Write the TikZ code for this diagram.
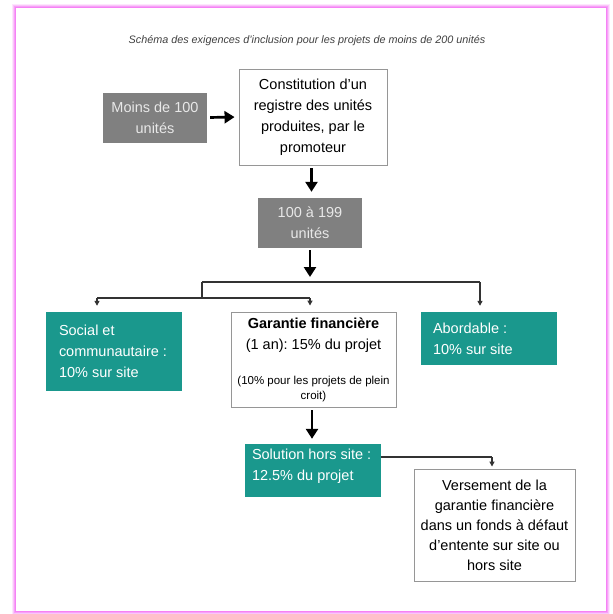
\documentclass[tikz,border=0pt]{standalone}
\usepackage{fontspec}
\setmainfont{Liberation Sans}
\usetikzlibrary{arrows.meta,calc}
\definecolor{teal1}{RGB}{26,152,141}
\definecolor{boxgray}{RGB}{128,128,128}
\definecolor{framepink}{RGB}{245,130,245}
\definecolor{bordergray}{RGB}{150,150,150}
\definecolor{lighttext}{RGB}{232,232,232}
\frenchspacing
\begin{document}
\begin{tikzpicture}[x=1pt,y=-1pt,
  every node/.style={font=\fontsize{14.5}{21}\selectfont, inner sep=0pt},
  graybox/.style={fill=boxgray, text=lighttext, align=center, minimum width=104pt, minimum height=50pt},
  whitebox/.style={draw=bordergray, line width=0.9pt, fill=white, align=flush center},
  tealbox/.style={fill=teal1, text=white, align=flush left},
  bigarrow/.style={-{Triangle[width=12pt,length=10pt]}, line width=2.7pt, draw=black},
  thinline/.style={line width=1.3pt, draw=black!80},
  thinarrow/.style={thinline, -{Triangle[width=5pt,length=5pt]}},
  glow/.style={draw=framepink, line width=1pt}
]
\useasboundingbox (0,0) rectangle (613,614);
\fill[white] (0,0) rectangle (613,614);
\draw[glow, opacity=1] (15.5,7.5) rectangle (606.5,611.5);
\draw[glow, opacity=0.75] (14.5,6.5) rectangle (607.5,612.5);
\draw[glow, opacity=0.45] (13.5,5.5) rectangle (608.5,613.5);
\draw[glow, opacity=0.2] (12.5,4.5) rectangle (609.5,614.5);

\node[font=\fontsize{10.8}{13}\selectfont\itshape, text=black!75] (title) at (307,41)
  {Schéma des exigences d'inclusion pour les projets de moins de 200 unités};

\node[graybox] (moins) at (155,117.5) {Moins de 100\\unités};
\node[whitebox, minimum width=148pt, minimum height=96pt] (constit) at (313,117)
  {Constitution d'un\\registre des unités\\produites, par le\\promoteur};
\node[graybox] (cent) at (310,223) {100 à 199\\unités};

\node[tealbox, text width=110pt, inner xsep=13pt, minimum height=79pt] (social) at (114,351.5)
  {Social et\\communautaire :\\10\% sur site};
\node[whitebox, text width=160pt, inner xsep=2.5pt, minimum height=95pt] (garantie) at (313.5,359.5)
  {{\bfseries Garantie financière}\\(1 an): 15\% du projet\par\vspace{20pt}%
   {\fontsize{11.5}{15}\selectfont (10\% pour les projets de plein\\croit)\par}};
\node[tealbox, text width=112pt, inner xsep=12pt, minimum height=53pt] (abord) at (489,338.5)
  {Abordable :\\10\% sur site};

\node[tealbox, text width=122pt, inner xsep=7pt, minimum height=53pt] (solution) at (313,470.5)
  {Solution hors site :\\12.5\% du projet\par\vspace{9pt}};
\node[whitebox, text width=155pt, inner xsep=3pt, minimum height=112pt,
      font=\fontsize{14.5}{20}\selectfont] (versement) at (494.5,525)
  {Versement de la\\garantie financière\\dans un fonds à défaut\\d'entente sur site ou\\hors site};

% connectors
\draw[bigarrow, shorten <=3pt, shorten >=4pt] (moins.east) -- (constit.west);
\draw[bigarrow, shorten <=3pt, shorten >=6pt] ([xshift=-1.5pt]constit.south) -- ([xshift=-1.5pt]constit.south |- cent.north);
\coordinate (hub) at (310,282);
\draw[bigarrow, shorten <=2pt, shorten >=5pt] (cent.south) -- (hub);

\coordinate (hl) at (202,282);
\coordinate (hr) at (480,282);
\coordinate (ll) at (97,298);
\coordinate (lm) at (202,298);
\coordinate (lr) at (310,298);
\draw[thinline] (hl) -- (hr);
\draw[thinline] (hl) -- (lm);
\draw[thinline] (ll) -- (lr);
\draw[thinarrow, shorten >=6pt] (hr) -- (hr |- abord.north);
\draw[thinarrow, shorten >=6pt] (ll) -- (ll |- social.north);
\draw[thinarrow, shorten >=6pt] (lr) -- (lr |- garantie.north);

\draw[bigarrow, shorten <=3pt, shorten >=5pt] ([xshift=-1.5pt]garantie.south) -- ([xshift=-1.5pt]garantie.south |- solution.north);
\coordinate (sv) at (492,457);
\draw[thinline] (solution.east |- sv) -- (sv);
\draw[thinarrow, shorten >=2pt] (sv) -- (sv |- versement.north);
\end{tikzpicture}
\end{document}
